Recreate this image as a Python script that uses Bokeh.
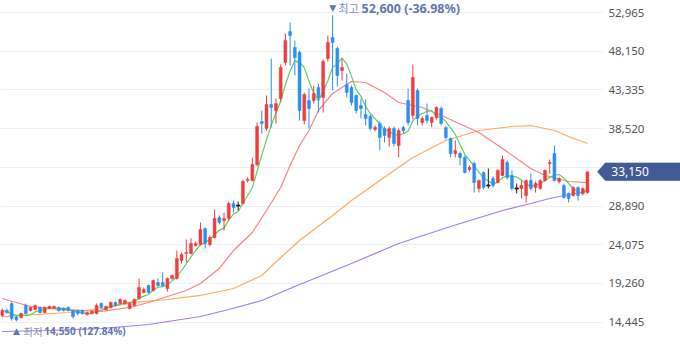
import pandas as pd
from bokeh.plotting import figure
from bokeh.models import (Range1d, FixedTicker, NumeralTickFormatter, Label, PolyAnnotation,
                          BoxAnnotation, LinearAxis, ColumnDataSource)
from bokeh.embed import file_html
from bokeh.resources import INLINE
from bokeh.core.properties import value

opens = [15280, 15900, 16770, 15100, 15030, 16520, 15900, 16020, 16270, 15650,
         16150, 16200, 16270, 16150, 16270, 15900, 15900, 15900, 15400, 15530,
         15530, 16770, 16020, 16270, 16900, 16770, 16770, 16150, 16520, 17390,
         18140, 19010, 18390, 19380, 19380, 18630, 19880, 19880, 22120, 22990,
         22990, 23990, 24110, 26100, 24110, 24980, 27470, 27100, 27340, 29210,
         28960, 29210, 32070, 32070, 34060, 39410, 38540, 41530, 40780, 42270,
         46750, 50610, 48620, 47990, 39540, 42020, 42020, 43640, 42400, 47250,
         49860, 48490, 45760, 44020, 43640, 42650, 41400, 40280, 40030, 38420,
         39170, 38540, 37420, 38540, 36420, 38670, 42020, 40150, 43270, 39290,
         40150, 39290, 39910, 41030, 38670, 37300, 35430, 35430, 34930, 33440,
         34190, 31080, 33070, 31450, 32320, 31820, 32700, 34310, 32700, 31080,
         31080, 30200, 32070, 31200, 31080, 32070, 34190, 35430, 31950, 31450,
         30450, 30200, 31200, 30450, 30580]
closes = [15900, 15650, 14900, 14750, 15530, 15530, 16270, 16520, 15650, 16270,
          16400, 16400, 15900, 15900, 15900, 15150, 15530, 15530, 15650, 15780,
          16520, 16270, 16400, 16900, 16520, 17270, 17150, 16770, 17270, 18760,
          18510, 18140, 19630, 19010, 19010, 19880, 20250, 22370, 22870, 23120,
          24230, 24230, 25980, 24230, 24980, 27340, 26850, 27340, 29210, 28710,
          28960, 31950, 32200, 34060, 38790, 39170, 41530, 41150, 41650, 46130,
          49490, 50110, 47370, 40780, 42770, 41030, 42890, 42400, 46880, 49240,
          49240, 45130, 46130, 43020, 41780, 40780, 41030, 39780, 38540, 38670,
          37420, 37670, 38540, 36670, 38290, 38290, 39290, 44890, 39780, 39780,
          39540, 39910, 41150, 39170, 37420, 35430, 35800, 34930, 33070, 33690,
          31820, 32070, 31200, 31450, 31450, 33320, 34680, 32450, 31080, 31080,
          31450, 32070, 31080, 31700, 32070, 33320, 34310, 32070, 32320, 29960,
          29830, 31200, 30200, 31080, 33150]
highs = [16150, 16100, 17020, 15300, 15650, 16770, 16400, 16650, 16400, 16400,
         16520, 16520, 16400, 16270, 16400, 16020, 16020, 16020, 15780, 15900,
         16770, 16900, 16520, 17020, 17020, 17400, 17270, 16900, 17400, 19880,
         18760, 19130, 19750, 19880, 20630, 20000, 20380, 23360, 23120, 24730,
         24860, 24480, 26850, 26220, 25230, 28460, 27720, 28090, 29460, 29580,
         29460, 32200, 32450, 34930, 39290, 40780, 42650, 47250, 42270, 46500,
         50360, 51730, 49490, 48250, 43020, 43520, 43890, 44140, 47120, 50110,
         52600, 48740, 47250, 45380, 43890, 42770, 42270, 42150, 40280, 38920,
         39410, 38790, 38790, 38790, 38540, 38920, 43520, 46500, 43520, 40030,
         41650, 40030, 41280, 41280, 38790, 37420, 37050, 35680, 35180, 33940,
         34430, 32200, 33190, 33560, 32570, 33440, 35180, 34560, 33320, 31700,
         32070, 32200, 32940, 31950, 32200, 33440, 34680, 36420, 32450, 31700,
         30580, 31330, 31330, 31200, 33190]
lows = [15030, 15500, 14650, 14550, 14900, 15400, 15780, 15900, 15530, 15530,
        16020, 16100, 15780, 15780, 15780, 14900, 15280, 15400, 15280, 15400,
        15400, 16150, 15900, 16150, 16400, 16650, 16650, 16020, 16400, 17270,
        18020, 18020, 18260, 18880, 18880, 18260, 19750, 19750, 21750, 21870,
        22870, 23860, 23990, 23610, 23860, 24860, 26600, 25850, 27100, 28090,
        28340, 29090, 31820, 31950, 33810, 37920, 38290, 38670, 39170, 41900,
        46380, 46380, 45130, 39540, 39040, 38540, 41650, 40530, 40530, 46880,
        43270, 43770, 44510, 42400, 41400, 40400, 39780, 38920, 38290, 38170,
        35800, 36800, 36300, 36300, 34930, 37920, 38920, 39660, 38920, 38920,
        39170, 38670, 39660, 38920, 37170, 34930, 34930, 33940, 32940, 33190,
        30580, 30580, 30950, 31080, 31200, 31700, 32570, 32200, 30830, 30450,
        29830, 29340, 30830, 30580, 30950, 31950, 32940, 31950, 31700, 29830,
        29340, 30080, 29580, 30200, 30450]

# moving averages (candle index, price)
ma20_idx = [0, 6, 12, 21, 27, 31, 35, 39, 42, 46, 49, 53, 56, 59, 61, 63, 65, 67, 70,
            74, 77, 81, 84, 89, 94, 101, 106, 112, 115, 120, 124]
ma20_val = [17390, 16400, 16030, 15780, 16270, 16900, 17640, 18390, 19260, 21130, 23360,
            25600, 28340, 31200, 33940, 36430, 38290, 40780, 42900, 44390, 44260, 43020,
            41780, 41150, 39910, 38040, 36050, 33570, 32690, 31950, 31820]
ma60_idx = [0, 14, 21, 28, 35, 42, 49, 55, 59, 63, 70, 74, 80, 87, 94, 101, 108, 112,
            117, 120, 124]
ma60_val = [15150, 15650, 16150, 16900, 17270, 17770, 18640, 20250, 22490, 24610, 27720,
            29580, 32070, 34930, 37050, 38290, 38790, 38910, 38290, 37550, 36680]
ma120_idx = [0, 10, 21, 31, 42, 48, 55, 59, 63, 74, 84, 95, 106, 112, 116, 120, 124]
ma120_val = [13290, 13410, 13660, 14160, 15150, 16020, 17140, 18140, 19130, 21750,
             24240, 26350, 28340, 29210, 29830, 30330, 30700]

y_ticks = [14445, 19260, 24075, 28890, 33705, 38520, 43335, 48150, 52965]

UP, DOWN, FLAT = "#f03c3c", "#2a8ff2", "#222222"
n = len(closes)
idx = list(range(n))
colors = [UP if c > o else (DOWN if c < o else FLAT) for o, c in zip(opens, closes)]
df = pd.DataFrame(dict(x=idx, o=opens, c=closes, h=highs, l=lows, color=colors))
df["top"] = df[["o", "c"]].max(axis=1)
df["bot"] = df[["o", "c"]].min(axis=1)
src = ColumnDataSource(df)
flat = ColumnDataSource(df[df.o == df.c])
ma5 = pd.Series(closes).rolling(5, min_periods=1).mean()

X0, X1 = -0.36, 143.71        # whole 680 px frame
AXIS_X = 127.18               # where the price scale begins (~602 px)

p = figure(width=680, height=358, output_backend="svg", toolbar_location=None,
           x_range=Range1d(X0, X1), y_range=Range1d(9929, 54464),
           x_axis_location=None, y_axis_location=None,
           min_border_left=0, min_border_top=0, min_border_bottom=0, min_border_right=0)
p.outline_line_color = None
p.background_fill_color = "white"
p.xgrid.grid_line_color = None
p.ygrid.grid_line_color = "#eef0f6"
p.ygrid.ticker = FixedTicker(ticks=y_ticks)

# blank the grid behind the price scale
p.add_layout(BoxAnnotation(left=AXIS_X, fill_color="white", fill_alpha=1, line_alpha=0,
                           level="underlay"))

ax = LinearAxis(fixed_location=AXIS_X)
ax.ticker = FixedTicker(ticks=y_ticks)
ax.formatter = NumeralTickFormatter(format="0,0")
ax.major_label_overrides = {33705: ""}
ax.axis_line_color = None
ax.major_tick_line_color = None
ax.minor_tick_line_color = None
ax.major_tick_out = 0
ax.major_tick_in = 0
ax.major_label_standoff = 6
ax.major_label_text_font = "Noto Sans"
ax.major_label_text_font_size = "11.5px"
ax.major_label_text_color = "#555555"
p.add_layout(ax, "right")

# moving averages
p.line(ma120_idx, ma120_val, line_color="#a67cf2", line_width=1.2)
p.line(ma60_idx, ma60_val, line_color="#ffab5e", line_width=1.2)
p.line(ma20_idx, ma20_val, line_color="#ff8080", line_width=1.2)
p.line(idx, ma5, line_color="#5fcf5f", line_width=1.2)

# candles
p.segment(x0="x", y0="h", x1="x", y1="l", color="color", line_width=1, source=src)
p.vbar(x="x", top="top", bottom="bot", width=0.62, fill_color="color",
       line_color="color", line_width=0.5, source=src)
p.rect(x="x", y="c", width=0.7, height=1, height_units="screen", color=FLAT, source=flat)

# max / min markers
hi_i = max(idx, key=lambda i: highs[i])
lo_i = min(idx, key=lambda i: lows[i])
last = closes[-1]
mx, mn = highs[hi_i], lows[lo_i]
lab = "#6275b2"
kfont = value("Noto Sans CJK KR")
p.text(x=[hi_i], y=[mx], text=["▼"], x_offset=0, y_offset=-7, text_align="center",
       text_baseline="middle", text_font=value("DejaVu Sans"), text_font_size="9px",
       text_color=lab)
p.text(x=[hi_i], y=[mx], text=["최고"], x_offset=6, y_offset=-7, text_align="left",
       text_baseline="middle", text_font=kfont, text_font_size="11px", text_color="#7f8ec0")
p.text(x=[hi_i], y=[mx], text=[f"{mx:,} ({(last / mx - 1) * 100:.2f}%)"], x_offset=29,
       y_offset=-7, text_align="left", text_baseline="middle", text_font=value("Noto Sans"),
       text_font_size="12.5px", text_font_style="bold", text_color=lab)
p.text(x=[lo_i], y=[mn], text=["▲"], x_offset=0, y_offset=10, text_align="center",
       text_baseline="middle", text_font=value("DejaVu Sans"), text_font_size="9px",
       text_color=lab)
p.text(x=[lo_i], y=[mn], text=["최저"], x_offset=7, y_offset=10, text_align="left",
       text_baseline="middle", text_font=kfont, text_font_size="10.5px", text_color="#7f8ec0")
p.text(x=[lo_i], y=[mn], text=[f"{mn:,} ({(last / mn - 1) * 100:.2f}%)"], x_offset=28,
       y_offset=10, text_align="left", text_baseline="middle", text_font=value("Noto Sans"),
       text_font_size="10px", text_font_style="bold", text_color=lab)

# current price tag
TAG = "#415b97"
dy = 1120
tip_x, box_x = AXIS_X - 1.1, AXIS_X + 0.6
tag = PolyAnnotation(xs=[tip_x, box_x, X1 + 1, X1 + 1, box_x],
                     ys=[last, last + dy, last + dy, last - dy, last - dy],
                     fill_color=TAG, fill_alpha=1, line_color=TAG, line_width=0.5)
p.add_layout(tag)
p.add_layout(Label(x=box_x, y=last, x_offset=6, text=f"{last:,}", text_color="white",
                   text_font="Noto Sans", text_font_size="12px", text_baseline="middle",
                   text_align="left"))

open("out.html", "w").write(file_html(p, INLINE))
